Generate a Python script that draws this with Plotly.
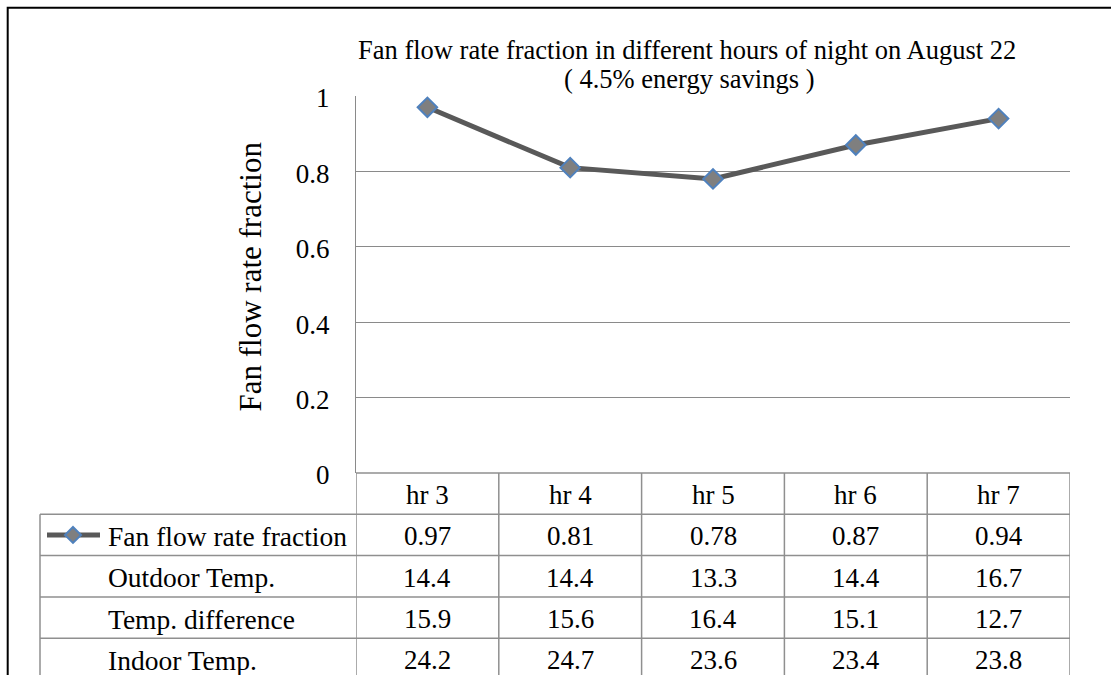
import plotly.graph_objects as go

# ---- data ----
hours = ["hr 3", "hr 4", "hr 5", "hr 6", "hr 7"]
fan_flow_fraction = [0.97, 0.81, 0.78, 0.87, 0.94]
outdoor_temp = [14.4, 14.4, 13.3, 14.4, 16.7]
temp_difference = [15.9, 15.6, 16.4, 15.1, 12.7]
indoor_temp = [24.2, 24.7, 23.6, 23.4, 23.8]

row_labels = ["Fan flow rate fraction", "Outdoor Temp.", "Temp. difference", "Indoor Temp."]
row_values = [fan_flow_fraction, outdoor_temp, temp_difference, indoor_temp]
row_formats = ["{:.2f}", "{:.1f}", "{:.1f}", "{:.1f}"]

y_ticks = [0, 0.2, 0.4, 0.6, 0.8, 1.0]
y_tick_text = ["0", "0.2", "0.4", "0.6", "0.8", "1"]

title_line1 = "Fan flow rate fraction in different hours of night on August 22"
title_line2 = "( 4.5% energy savings )"
y_title = "Fan flow rate fraction"

# ---- layout geometry (pixels) ----
W, H = 1111, 675
PL, PR, PT, PB = 356, 1070, 96, 473       # plot area edges
ROW_H = 41.3                               # data-table row height
TABLE_LEFT = 40
LABEL_X = 106

FONT = "Liberation Serif, Times New Roman, serif"
GRID = "#8a8a8a"
TABLE_LINE = "#8f8f8f"
LINE_COL = "#595959"
MARK_FILL = "#7f7f7f"
MARK_EDGE = "#4f81bd"


def px(x):
    return (x - PL) / (PR - PL)


def py(y):
    return (PB - y) / (PB - PT)


xs = list(range(len(hours)))

fig = go.Figure()
fig.add_trace(go.Scatter(
    x=xs, y=fan_flow_fraction, mode="lines+markers", name=row_labels[0],
    line=dict(color=LINE_COL, width=5),
    marker=dict(symbol="diamond", size=15, color=MARK_FILL,
                line=dict(color=MARK_EDGE, width=2)),
    showlegend=False, cliponaxis=False,
))

shapes = []
annotations = []

# outer chart border (right/bottom edges lie outside the view)
shapes.append(dict(type="rect", xref="paper", yref="paper",
                   x0=px(7.7), x1=px(W + 20), y0=py(7.7), y1=py(H + 20),
                   line=dict(color="black", width=2), fillcolor="rgba(0,0,0,0)",
                   layer="below"))

# data table: header row and value rows
n_rows = len(row_labels)
header_bottom = PB + ROW_H
table_bottom = header_bottom + n_rows * ROW_H

# horizontal lines
shapes.append(dict(type="line", xref="x", yref="paper", x0=-0.5, x1=len(hours) - 0.5,
                   y0=py(PB), y1=py(PB), line=dict(color=TABLE_LINE, width=1.5)))
for r in range(n_rows + 1):
    yy = header_bottom + r * ROW_H
    shapes.append(dict(type="line", xref="paper", yref="paper",
                       x0=px(TABLE_LEFT), x1=px(PR), y0=py(yy), y1=py(yy),
                       line=dict(color=TABLE_LINE, width=1.5)))
# vertical lines
for i in range(len(hours) + 1):
    shapes.append(dict(type="line", xref="x", yref="paper", x0=i - 0.5, x1=i - 0.5,
                       y0=py(PB), y1=py(table_bottom),
                       line=dict(color=TABLE_LINE, width=1.5)))
shapes.append(dict(type="line", xref="paper", yref="paper",
                   x0=px(TABLE_LEFT), x1=px(TABLE_LEFT), y0=py(header_bottom), y1=py(table_bottom),
                   line=dict(color=TABLE_LINE, width=1.5)))

# header text
for i, h in enumerate(hours):
    annotations.append(dict(x=i, y=py(PB + ROW_H / 2 + 1.5), xref="x", yref="paper",
                            text=h, showarrow=False, xanchor="center", yanchor="middle",
                            font=dict(family=FONT, size=27, color="black")))
# rows
for r, (lab, vals, fmt) in enumerate(zip(row_labels, row_values, row_formats)):
    yc = header_bottom + (r + 0.5) * ROW_H + 1.5
    annotations.append(dict(x=px(LABEL_X), y=py(yc), xref="paper", yref="paper",
                            text=lab, showarrow=False, xanchor="left", yanchor="middle",
                            font=dict(family=FONT, size=27.5, color="black")))
    for i, v in enumerate(vals):
        annotations.append(dict(x=i, y=py(yc), xref="x", yref="paper",
                                text=fmt.format(v), showarrow=False,
                                xanchor="center", yanchor="middle",
                                font=dict(family=FONT, size=27, color="black")))

# legend key in the first row: line with a diamond marker
key_y = header_bottom + 0.5 * ROW_H
shapes.append(dict(type="line", xref="paper", yref="paper",
                   x0=px(47), x1=px(100), y0=py(key_y), y1=py(key_y),
                   line=dict(color=LINE_COL, width=5)))
kx, kr = 73, 8
diamond = "M {},{} L {},{} L {},{} L {},{} Z".format(
    px(kx), py(key_y - kr), px(kx + kr), py(key_y),
    px(kx), py(key_y + kr), px(kx - kr), py(key_y))
shapes.append(dict(type="path", xref="paper", yref="paper", path=diamond,
                   fillcolor=MARK_FILL, line=dict(color=MARK_EDGE, width=2)))

# titles
annotations.append(dict(x=px(687), y=py(50), xref="paper", yref="paper", text=title_line1,
                        showarrow=False, xanchor="center", yanchor="middle",
                        font=dict(family=FONT, size=26.5, color="black")))
annotations.append(dict(x=px(689), y=py(79), xref="paper", yref="paper", text=title_line2,
                        showarrow=False, xanchor="center", yanchor="middle",
                        font=dict(family=FONT, size=26.5, color="black")))
annotations.append(dict(x=px(250), y=py(276.5), xref="paper", yref="paper", text=y_title,
                        showarrow=False, textangle=-90, xanchor="center", yanchor="middle",
                        font=dict(family=FONT, size=31, color="black")))

fig.update_layout(
    width=W, height=H, autosize=False,
    margin=dict(l=PL, r=W - PR, t=PT, b=H - PB, pad=0),
    paper_bgcolor="white", plot_bgcolor="white",
    xaxis=dict(range=[-0.5, len(hours) - 0.5], showticklabels=False, showgrid=False,
               zeroline=False, showline=False, ticks="", fixedrange=True),
    yaxis=dict(range=[0, 1], tickvals=y_ticks, ticktext=y_tick_text,
               showgrid=True, gridcolor=GRID, gridwidth=1.3,
               zeroline=False, showline=True, linecolor=GRID, linewidth=1.3,
               ticks="outside", ticklen=0, ticklabelstandoff=20, ticklabelshift=2,
               tickfont=dict(family=FONT, size=27, color="black"), fixedrange=True),
    shapes=shapes,
    annotations=annotations,
    showlegend=False,
)

fig.write_html("out.html")
